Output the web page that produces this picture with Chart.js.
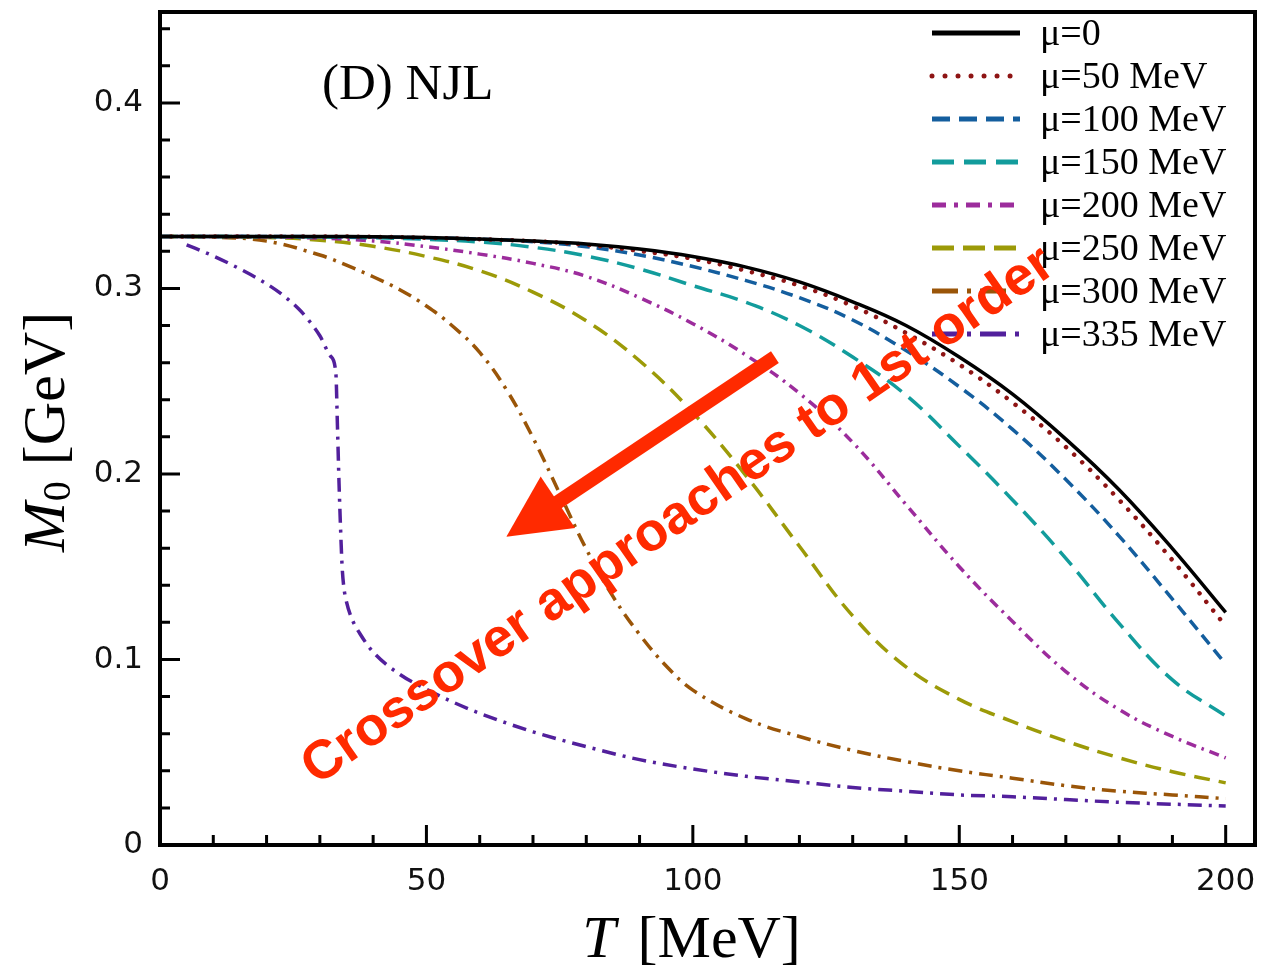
<!DOCTYPE html>
<html>
<head>
<meta charset="utf-8">
<script src="https://cdn.jsdelivr.net/npm/chart.js@4.4.1/dist/chart.umd.min.js"></script>
<style>
html,body{margin:0;padding:0;background:#fff;}
#wrap{width:1261px;height:974px;position:relative;}
</style>
</head>
<body>
<div id="wrap"><canvas id="c" width="1261" height="974"></canvas></div>
<script>
// ---------------- data ----------------
const T_grid = [0,10,20,30,40,50,60,70,80,90,100,110,120,130,140,150,160,170,180,190,200];
const M_mu0   = [0.328,0.328,0.328,0.328,0.3279,0.3275,0.3266,0.3255,0.3240,0.3212,0.3172,0.3115,0.3035,0.2928,0.2800,0.2630,0.2430,0.2188,0.1915,0.1598,0.1254];
const M_mu50  = [0.328,0.328,0.328,0.328,0.3278,0.3273,0.3265,0.3255,0.3235,0.3202,0.3160,0.3095,0.3015,0.2905,0.2760,0.2590,0.2385,0.2145,0.1860,0.1535,0.118];
const M_mu100 = [0.328,0.328,0.328,0.3279,0.3277,0.3273,0.3266,0.3252,0.3225,0.3180,0.3118,0.3042,0.2950,0.2830,0.2665,0.2470,0.2240,0.1970,0.1665,0.1325,0.0975];
const M_mu150 = [0.328,0.328,0.3279,0.3277,0.3273,0.3265,0.3250,0.3222,0.3175,0.3105,0.3015,0.2925,0.2800,0.2630,0.2425,0.2150,0.1860,0.1545,0.1195,0.0890,0.0695];
const M_mu200 = [0.328,0.328,0.3278,0.3271,0.3256,0.3225,0.3185,0.3135,0.3065,0.2950,0.2810,0.2640,0.2435,0.2170,0.1835,0.1500,0.1205,0.0935,0.0730,0.0585,0.047];
const M_mu250 = [0.328,0.328,0.3275,0.326,0.3227,0.3172,0.3095,0.2980,0.2825,0.2610,0.2330,0.1990,0.1610,0.1235,0.0960,0.0785,0.0665,0.056,0.047,0.0395,0.0335];
const T_mu300 = [0,10,20,30,35,40,45,50,55,60,65,70,75,80,85,90,95,100,110,120,130,140,150,160,170,180,190,200];
const M_mu300 = [0.328,0.3277,0.3255,0.318,0.3125,0.3063,0.2993,0.2905,0.2795,0.2655,0.2455,0.2195,0.1895,0.1595,0.134,0.1135,0.0965,0.0835,0.068,0.0585,0.051,0.045,0.040,0.036,0.032,0.029,0.027,0.025];
const T_mu335 = [5,10,15,20,23,26,28,30,32,33,33.3,33.6,34,34.2,34.5,35,36,37.5,40,45,50,55,60,70,80,90,100,110,120,130,140,150,160,170,180,190,200];
const M_mu335 = [0.3235,0.3175,0.3105,0.3025,0.2965,0.289,0.2825,0.2745,0.2635,0.2545,0.226,0.195,0.162,0.149,0.139,0.131,0.122,0.114,0.104,0.092,0.084,0.077,0.071,0.061,0.053,0.046,0.041,0.037,0.034,0.031,0.029,0.027,0.026,0.0245,0.023,0.022,0.021];

const seriesLabels = ['μ=0','μ=50 MeV','μ=100 MeV','μ=150 MeV','μ=200 MeV','μ=250 MeV','μ=300 MeV','μ=335 MeV'];
const xTickValues = [0,50,100,150,200];
const yTickValues = [0,0.1,0.2,0.3,0.4];
const panelTitle = '(D) NJL';
const annotationText = 'Crossover approaches to 1st order';

// ---------------- styles ----------------
const colors = ['#000000','#8e1414','#145e9e','#129c9c','#9c2c9c','#9c9a08','#9a5508','#52209c'];
const widths = [3.5,4.5,3.5,3.5,3.5,3.5,3.5,3.5];
const dashes = [[],[0.01,11],[12,7],[18,9],[10,6,2.5,6],[16,9],[14,7,3,7],[14,7,3,7]];
const legendDashes = [[],[0.01,13],[18,9],[22,10],[14,8,4,8],[22,9],[26,9,4,9],[26,9,4,9]];

function pts(T, M){ return T.map((t,i)=>({x:t, y:M[i]})); }
const allData = [
  pts(T_grid, M_mu0), pts(T_grid, M_mu50), pts(T_grid, M_mu100), pts(T_grid, M_mu150),
  pts(T_grid, M_mu200), pts(T_grid, M_mu250), pts(T_mu300, M_mu300), pts(T_mu335, M_mu335)
];

const datasets = allData.map((d,i)=>({
  label: seriesLabels[i],
  data: d,
  borderColor: colors[i],
  borderWidth: widths[i],
  borderDash: dashes[i],
  borderCapStyle: i===1 ? 'round' : 'butt',
  pointRadius: 0,
  fill: false,
  tension: 0.4,
  cubicInterpolationMode: i === 7 ? 'monotone' : 'default'
}));

const decor = {
  id: 'decor',
  afterDatasetsDraw(chart){
    const {ctx, chartArea:a, scales:{x, y}} = chart;
    ctx.save();
    // frame
    ctx.strokeStyle = '#000';
    ctx.lineWidth = 4;
    ctx.strokeRect(a.left, a.top, a.right - a.left, a.bottom - a.top);
    // inward ticks
    ctx.lineWidth = 3;
    ctx.beginPath();
    for (let v = 0; v <= 200; v += 10) {
      const px = x.getPixelForValue(v);
      const len = (v % 50 === 0) ? 20 : 10;
      ctx.moveTo(px, a.bottom); ctx.lineTo(px, a.bottom - len);
    }
    for (let k = 0; k <= 22; k++) {
      const v = k * 0.02;
      const py = y.getPixelForValue(v);
      const len = (k % 5 === 0) ? 20 : 10;
      ctx.moveTo(a.left, py); ctx.lineTo(a.left + len, py);
    }
    ctx.stroke();

    // panel title
    ctx.fillStyle = '#000';
    ctx.font = '51px "Liberation Serif"';
    ctx.textAlign = 'left';
    ctx.textBaseline = 'alphabetic';
    ctx.fillText(panelTitle, 322, 99);

    // legend
    const rowY = [33, 76, 119, 162, 205, 248, 291, 334];
    for (let i = 0; i < seriesLabels.length; i++) {
      ctx.beginPath();
      ctx.strokeStyle = colors[i];
      ctx.lineWidth = 5;
      ctx.setLineDash(legendDashes[i]);
      ctx.lineCap = i === 1 ? 'round' : 'butt';
      ctx.moveTo(932, rowY[i]); ctx.lineTo(1020, rowY[i]);
      ctx.stroke();
      ctx.setLineDash([]);
      ctx.lineCap = 'butt';
      ctx.fillStyle = '#000';
      ctx.font = '38px "Liberation Serif"';
      ctx.textBaseline = 'middle';
      ctx.fillText(seriesLabels[i], 1040, rowY[i] + 2);
    }

    // arrow (data coordinates)
    const tail = {x: x.getPixelForValue(115.4), y: y.getPixelForValue(0.263)};
    const tip  = {x: x.getPixelForValue(65.0),  y: y.getPixelForValue(0.1662)};
    const dx = tip.x - tail.x, dy = tip.y - tail.y;
    const L = Math.hypot(dx, dy), ux = dx / L, uy = dy / L;
    const headLen = 62, headHalf = 31;
    const bx = tip.x - ux * headLen, by = tip.y - uy * headLen;
    ctx.fillStyle = '#ff2a00';
    ctx.strokeStyle = '#ff2a00';
    ctx.lineWidth = 14;
    ctx.beginPath();
    ctx.moveTo(tail.x, tail.y); ctx.lineTo(bx + ux * 4, by + uy * 4);
    ctx.stroke();
    ctx.beginPath();
    ctx.moveTo(tip.x, tip.y);
    ctx.lineTo(bx - uy * headHalf, by + ux * headHalf);
    ctx.lineTo(bx + uy * headHalf, by - ux * headHalf);
    ctx.closePath();
    ctx.fill();

    // rotated annotation text
    const sx = x.getPixelForValue(29.4), sy = y.getPixelForValue(0.0318);
    let fs = 52;
    ctx.font = 'bold ' + fs + 'px "Liberation Sans"';
    const w = ctx.measureText(annotationText).width;
    fs = fs * 902 / w;
    ctx.font = 'bold ' + fs.toFixed(1) + 'px "Liberation Sans"';
    ctx.translate(sx, sy);
    ctx.rotate(-34.8 * Math.PI / 180);
    ctx.textBaseline = 'alphabetic';
    ctx.textAlign = 'left';
    ctx.fillStyle = '#ff2a00';
    ctx.fillText(annotationText, 0, 0);
    ctx.restore();
  },
  afterDraw(chart){
    const ctx = chart.ctx;
    ctx.save();
    ctx.fillStyle = '#000';
    ctx.textBaseline = 'alphabetic';
    // x title: T [MeV]
    const fI = 'italic 60px "Liberation Serif"', fN = '60px "Liberation Serif"';
    ctx.font = fI; const w1 = ctx.measureText('T').width;
    ctx.font = fN; const w2 = ctx.measureText(' [MeV]').width;
    let x0 = 691 - (w1 + w2) / 2;
    ctx.textAlign = 'left';
    ctx.font = fI; ctx.fillText('T', x0 - 3, 957);
    ctx.font = fN; ctx.fillText(' [MeV]', x0 + w1 + 4, 957);
    // y title: M_0 [GeV]
    ctx.translate(64, 433);
    ctx.rotate(-Math.PI / 2);
    ctx.font = fI; const m1 = ctx.measureText('M').width;
    ctx.font = '40px "Liberation Serif"'; const m2 = ctx.measureText('0').width;
    ctx.font = fN; const m3 = ctx.measureText(' [GeV]').width;
    let s = -(m1 + m2 + m3) / 2;
    ctx.font = fI; ctx.fillText('M', s, 0);
    ctx.font = '40px "Liberation Serif"'; ctx.fillText('0', s + m1 + 1, 6);
    ctx.font = fN; ctx.fillText(' [GeV]', s + m1 + m2 + 2, 0);
    ctx.restore();
  }
};

function zeroPad(s){ s.paddingTop = 0; s.paddingBottom = 0; s.paddingLeft = 0; s.paddingRight = 0; }

new Chart(document.getElementById('c'), {
  type: 'line',
  data: { datasets },
  plugins: [decor],
  options: {
    responsive: false,
    animation: false,
    layout: { autoPadding: false, padding: { top: 12, right: 6, left: 0, bottom: 0 } },
    plugins: { legend: { display: false }, tooltip: { enabled: false } },
    scales: {
      x: {
        type: 'linear', min: 0, max: 205.5,
        grid: { display: false, drawTicks: false },
        border: { display: false },
        afterBuildTicks: s => { s.ticks = xTickValues.map(v => ({ value: v })); },
        afterFit: s => { s.height = 129; zeroPad(s); },
        ticks: {
          includeBounds: false, padding: 18, color: '#111',
          font: { family: 'DejaVu Sans', size: 31 },
          callback: v => String(v)
        }
      },
      y: {
        type: 'linear', min: 0, max: 0.449,
        grid: { display: false, drawTicks: false },
        border: { display: false },
        afterBuildTicks: s => { s.ticks = yTickValues.map(v => ({ value: v })); },
        afterFit: s => { s.width = 160; zeroPad(s); },
        ticks: {
          includeBounds: false, padding: 17, color: '#111',
          font: { family: 'DejaVu Sans', size: 31 },
          callback: v => (v === 0 ? '0' : Number(v).toFixed(1))
        }
      }
    }
  }
});
</script>
</body>
</html>
